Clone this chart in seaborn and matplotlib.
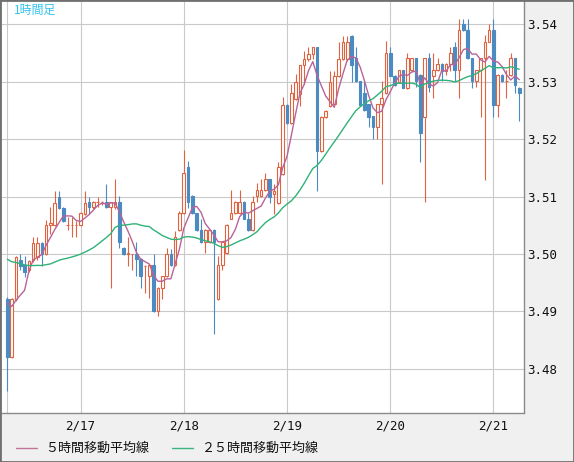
import numpy as np
import pandas as pd
import matplotlib
matplotlib.use("Agg")
import matplotlib.pyplot as plt
import seaborn as sns
from matplotlib.lines import Line2D
from matplotlib.patches import Rectangle

# ---------------- data (hourly candles, 2/16 07:00 -> 2/21 06:00) ----------------
opens = [3.4921, 3.4820, 3.4921, 3.4990, 3.4980, 3.4971, 3.4989, 3.4994, 3.5019, 3.5000,
         3.5050, 3.5050, 3.5100, 3.5080, 3.5050, 3.5050, 3.5050, 3.5050, 3.5070, 3.5091,
         3.5081, 3.5090, 3.5090, 3.5090, 3.5081, 3.5081, 3.5091, 3.5011, 3.5000, 3.4999,
         3.5000, 3.4991, 3.4978, 3.4961, 3.4980, 3.4900, 3.4941, 3.4961, 3.5000, 3.4980,
         3.5042, 3.5071, 3.5151, 3.5101, 3.5071, 3.5042, 3.5020, 3.5020, 3.5042, 3.4921,
         3.4981, 3.5001, 3.5061, 3.5071, 3.5071, 3.5091, 3.5061, 3.5042, 3.5101, 3.5101,
         3.5112, 3.5130, 3.5105, 3.5088, 3.5139, 3.5260, 3.5229, 3.5270, 3.5279, 3.5329,
         3.5339, 3.5348, 3.5360, 3.5179, 3.5239, 3.5258, 3.5262, 3.5310, 3.5339, 3.5339,
         3.5380, 3.5342, 3.5301, 3.5280, 3.5261, 3.5240, 3.5221, 3.5261, 3.5280, 3.5350,
         3.5311, 3.5300, 3.5320, 3.5290, 3.5320, 3.5341, 3.5312, 3.5239, 3.5341, 3.5311,
         3.5320, 3.5331, 3.5319, 3.5331, 3.5360, 3.5320, 3.5400, 3.5390, 3.5341, 3.5301,
         3.5320, 3.5341, 3.5370, 3.5390, 3.5260, 3.5312, 3.5301, 3.5312, 3.5341, 3.5290]
highs = [3.4924, 3.4923, 3.4997, 3.5000, 3.4997, 3.4990, 3.5029, 3.5029, 3.5020, 3.5059,
         3.5081, 3.5110, 3.5110, 3.5082, 3.5064, 3.5064, 3.5058, 3.5073, 3.5110, 3.5099,
         3.5093, 3.5100, 3.5093, 3.5122, 3.5091, 3.5130, 3.5101, 3.5012, 3.5030, 3.5000,
         3.5021, 3.4993, 3.4980, 3.4981, 3.5000, 3.4942, 3.4962, 3.5010, 3.5009, 3.5040,
         3.5075, 3.5181, 3.5162, 3.5102, 3.5072, 3.5061, 3.5043, 3.5043, 3.5043, 3.4997,
         3.5021, 3.5052, 3.5112, 3.5092, 3.5112, 3.5092, 3.5071, 3.5101, 3.5123, 3.5131,
         3.5141, 3.5131, 3.5121, 3.5160, 3.5273, 3.5261, 3.5296, 3.5313, 3.5330, 3.5354,
         3.5360, 3.5361, 3.5361, 3.5240, 3.5251, 3.5319, 3.5319, 3.5370, 3.5380, 3.5380,
         3.5381, 3.5361, 3.5302, 3.5301, 3.5262, 3.5241, 3.5262, 3.5301, 3.5371, 3.5360,
         3.5312, 3.5321, 3.5321, 3.5350, 3.5342, 3.5342, 3.5313, 3.5342, 3.5350, 3.5350,
         3.5341, 3.5332, 3.5332, 3.5360, 3.5370, 3.5410, 3.5410, 3.5410, 3.5342, 3.5321,
         3.5342, 3.5381, 3.5400, 3.5410, 3.5313, 3.5313, 3.5320, 3.5351, 3.5342, 3.5291]
lows = [3.4760, 3.4818, 3.4918, 3.4971, 3.4960, 3.4968, 3.4985, 3.4989, 3.4979, 3.4998,
        3.5035, 3.5048, 3.5078, 3.5055, 3.5041, 3.5029, 3.5029, 3.5048, 3.5068, 3.5070,
        3.5079, 3.5081, 3.5085, 3.5080, 3.4941, 3.5079, 3.5010, 3.4998, 3.4979, 3.4971,
        3.4961, 3.4941, 3.4932, 3.4923, 3.4899, 3.4891, 3.4921, 3.4959, 3.4978, 3.4978,
        3.5040, 3.5069, 3.5080, 3.5069, 3.5039, 3.5019, 3.5001, 3.5019, 3.4860, 3.4919,
        3.4972, 3.4999, 3.5060, 3.5070, 3.5070, 3.5060, 3.5039, 3.5040, 3.5090, 3.5099,
        3.5110, 3.5088, 3.5070, 3.5087, 3.5137, 3.5227, 3.5227, 3.5268, 3.5258, 3.5296,
        3.5337, 3.5339, 3.5109, 3.5178, 3.5237, 3.5256, 3.5260, 3.5308, 3.5338, 3.5337,
        3.5299, 3.5300, 3.5259, 3.5249, 3.5221, 3.5200, 3.5200, 3.5121, 3.5279, 3.5310,
        3.5292, 3.5299, 3.5289, 3.5288, 3.5319, 3.5291, 3.5161, 3.5090, 3.5283, 3.5271,
        3.5319, 3.5301, 3.5312, 3.5319, 3.5301, 3.5271, 3.5389, 3.5340, 3.5290, 3.5291,
        3.5239, 3.5129, 3.5369, 3.5239, 3.5239, 3.5300, 3.5271, 3.5310, 3.5280, 3.5231]
closes = [3.4820, 3.4921, 3.4994, 3.4979, 3.4968, 3.4987, 3.5019, 3.5019, 3.5000, 3.5050,
          3.5053, 3.5089, 3.5080, 3.5058, 3.5051, 3.5051, 3.5051, 3.5071, 3.5088, 3.5081,
          3.5091, 3.5091, 3.5091, 3.5081, 3.5090, 3.5090, 3.5020, 3.5000, 3.5001, 3.5000,
          3.4991, 3.4961, 3.4979, 3.4980, 3.4900, 3.4941, 3.4961, 3.5000, 3.4980, 3.5030,
          3.5071, 3.5141, 3.5090, 3.5071, 3.5041, 3.5020, 3.5042, 3.5042, 3.5020, 3.4981,
          3.5020, 3.5051, 3.5071, 3.5091, 3.5091, 3.5061, 3.5041, 3.5091, 3.5112, 3.5112,
          3.5131, 3.5099, 3.5110, 3.5151, 3.5260, 3.5229, 3.5281, 3.5300, 3.5329, 3.5339,
          3.5348, 3.5360, 3.5179, 3.5239, 3.5250, 3.5299, 3.5311, 3.5339, 3.5370, 3.5370,
          3.5329, 3.5301, 3.5260, 3.5251, 3.5239, 3.5221, 3.5261, 3.5271, 3.5350, 3.5311,
          3.5294, 3.5320, 3.5290, 3.5341, 3.5341, 3.5301, 3.5210, 3.5341, 3.5291, 3.5320,
          3.5331, 3.5319, 3.5331, 3.5350, 3.5320, 3.5390, 3.5390, 3.5341, 3.5301, 3.5320,
          3.5341, 3.5370, 3.5390, 3.5260, 3.5312, 3.5301, 3.5302, 3.5341, 3.5295, 3.5280]
# hourly closes before the visible window (estimated from where the MA lines start)
prior_closes = [3.5030, 3.5025, 3.5035, 3.5020, 3.5015, 3.5020, 3.5010, 3.5005, 3.5015, 3.5020,
                3.5010, 3.5000, 3.5005, 3.5010, 3.5000, 3.4995, 3.5005, 3.5000, 3.4990, 3.4985,
                3.4950, 3.4940, 3.4935, 3.4925]
day_labels = ["2/17", "2/18", "2/19", "2/20", "2/21"]
day_start_index = [17, 41, 65, 89, 113]   # candle index of 00:00 on each day
price_ticks = [3.48, 3.49, 3.50, 3.51, 3.52, 3.53, 3.54]
title_text = "1時間足"
ma_labels = ["５時間移動平均線", "２５時間移動平均線"]

# ---------------- derived ----------------
n = len(closes)
idx = np.arange(n)
all_c = pd.Series(prior_closes + closes)
ma5 = all_c.rolling(5).mean().iloc[len(prior_closes):].to_numpy()
ma25 = all_c.rolling(25).mean().iloc[len(prior_closes):].to_numpy()
df = pd.DataFrame({"idx": idx, "open": opens, "high": highs, "low": lows,
                   "close": closes, "ma5": ma5, "ma25": ma25})

UP = "#e0623e"
DOWN = "#4b8bc2"
MA5_C = "#b8639a"
MA25_C = "#2fb277"

sns.set_theme(style="white")
plt.rcParams["font.family"] = ["DejaVu Sans Mono", "Noto Sans CJK JP"]

W, H = 574, 462
fig = plt.figure(figsize=(W / 100, H / 100), dpi=100, facecolor="#f0f0f0")
left_px, right_px, top_px, bot_px = 2.0, 523.5, 0.5, 412.5
ax = fig.add_axes([left_px / W, (H - bot_px) / H, (right_px - left_px) / W, (bot_px - top_px) / H])
ax.set_facecolor("white")

# grid
ax.set_xticks(day_start_index)
ax.set_xticklabels(day_labels)
ax.set_xticks([0], minor=True)
ax.set_yticks(price_ticks)
ax.set_yticklabels([f"{v:.2f}" for v in price_ticks])
ax.grid(True, which="both", color="#c9c9c9", lw=0.8, zorder=0)
ax.set_axisbelow(True)

# candles
up = df["close"] >= df["open"]
cols = np.where(up, UP, DOWN)
faces = np.where(up, "white", DOWN)
ax.vlines(df["idx"], df["low"], df["high"], colors=cols, lw=0.8, zorder=2)
body_bottom = np.minimum(df["open"], df["close"])
body_h = np.maximum(np.abs(df["close"] - df["open"]), 0.00003)
ax.bar(df["idx"], body_h, bottom=body_bottom, width=0.6, color=faces,
       edgecolor=cols, linewidth=0.8, zorder=3)

# moving averages
sns.lineplot(data=df, x="idx", y="ma5", color=MA5_C, lw=1.0, ax=ax, zorder=4)
sns.lineplot(data=df, x="idx", y="ma25", color=MA25_C, lw=1.0, ax=ax, zorder=4)

ax.set_xlim(-1.25, 119.98)
ax.set_ylim(3.472326, 3.544186)
ax.set_xlabel("")
ax.set_ylabel("")

ax.yaxis.tick_right()
ax.tick_params(axis="y", which="both", length=0, pad=2.5, labelsize=9, colors="#111111")
ax.tick_params(axis="x", which="both", length=0, pad=5, labelsize=9, colors="#111111")
for lab in ax.get_xticklabels() + ax.get_yticklabels():
    lab.set_family("DejaVu Sans Mono")

for s in ["top", "left"]:
    ax.spines[s].set_visible(False)
for s in ["right", "bottom"]:
    ax.spines[s].set_color("#8a8a8a")
    ax.spines[s].set_linewidth(1.0)

# title inside plot
fig.text(14 / W, 1 - 10 / H, title_text, color="#33c3ee", fontsize=8.6,
         ha="left", va="center", family=["Noto Sans CJK JP", "DejaVu Sans"])

# legend (bottom)
yl = 1 - 448 / H
fig.add_artist(Line2D([16 / W, 37 / W], [yl, yl], color="#c07698", lw=1.0))
fig.text(45 / W, yl, ma_labels[0], fontsize=9.4, ha="left", va="center", color="#111111",
         family=["Noto Sans CJK JP", "DejaVu Sans"])
fig.add_artist(Line2D([172 / W, 193 / W], [yl, yl], color="#3cb383", lw=1.0))
fig.text(202 / W, yl, ma_labels[1], fontsize=9.4, ha="left", va="center", color="#111111",
         family=["Noto Sans CJK JP", "DejaVu Sans"])

# outer frame
fig.add_artist(Rectangle((0, 0), 1, 1, transform=fig.transFigure, fill=False,
                         edgecolor="#707070", lw=2.0))

fig.savefig("out.png", dpi=100, facecolor=fig.get_facecolor())
